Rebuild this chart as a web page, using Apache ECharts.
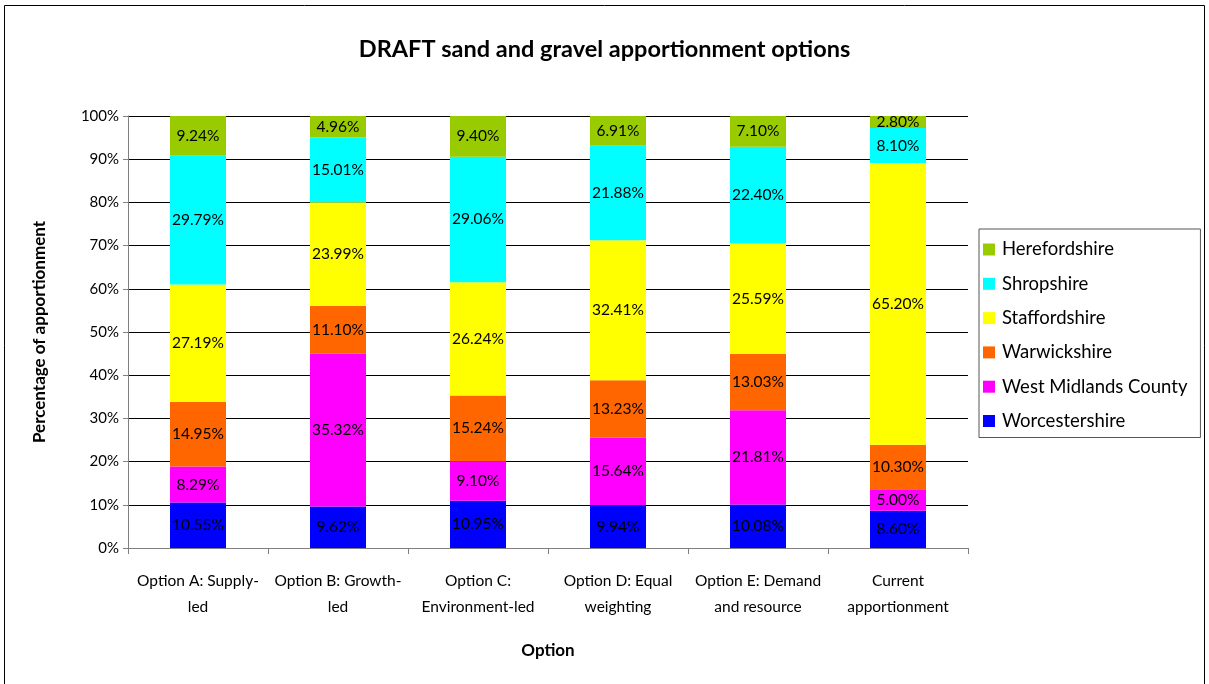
<!DOCTYPE html>
<html>
<head>
<meta charset="utf-8">
<style>
  html, body { margin: 0; padding: 0; background: #fff; }
  #chart { width: 1209px; height: 684px; }
</style>
<script src="https://cdn.jsdelivr.net/npm/echarts@6/dist/echarts.min.js"></script>
</head>
<body>
<div id="chart"></div>
<script>
// Options compared (line breaks as laid out under the axis)
const categories = [
  'Option A: Supply-\nled',
  'Option B: Growth-\nled',
  'Option C:\nEnvironment-led',
  'Option D: Equal\nweighting',
  'Option E: Demand\nand resource',
  'Current\napportionment'
];

// Share of apportionment (%) per county, bottom of the stack first
const worcestershire     = [10.55, 9.62, 10.95, 9.94, 10.08, 8.60];
const westMidlandsCounty = [8.29, 35.32, 9.10, 15.64, 21.81, 5.00];
const warwickshire       = [14.95, 11.10, 15.24, 13.23, 13.03, 10.30];
const staffordshire      = [27.19, 23.99, 26.24, 32.41, 25.59, 65.20];
const shropshire         = [29.79, 15.01, 29.06, 21.88, 22.40, 8.10];
const herefordshire      = [9.24, 4.96, 9.40, 6.91, 7.10, 2.80];

const yTicks = [0, 10, 20, 30, 40, 50, 60, 70, 80, 90, 100];

const FONT = 'Lato, "Open Sans", sans-serif';

const seriesDefs = [
  { name: 'Worcestershire', data: worcestershire, color: '#0000FF' },
  { name: 'West Midlands County', data: westMidlandsCounty, color: '#FF00FF' },
  { name: 'Warwickshire', data: warwickshire, color: '#FF6600' },
  { name: 'Staffordshire', data: staffordshire, color: '#FFFF00' },
  { name: 'Shropshire', data: shropshire, color: '#00FFFF' },
  { name: 'Herefordshire', data: herefordshire, color: '#99CC00' }
];

const chart = echarts.init(document.getElementById('chart'), null, { renderer: 'canvas' });

chart.setOption({
  animation: false,
  backgroundColor: '#fff',
  graphic: [{
    type: 'rect',
    shape: { x: 4.5, y: 5.5, width: 1200, height: 690 },
    style: { fill: 'none', stroke: '#000', lineWidth: 1 },
    silent: true
  }],
  title: {
    text: 'DRAFT sand and gravel apportionment options',
    left: 'center',
    top: 32,
    textStyle: { fontFamily: FONT, fontSize: 23.5, fontWeight: 'bold', color: '#000' }
  },
  legend: {
    orient: 'vertical',
    left: 979,
    top: 229,
    padding: [11, 13, 7, 4],
    itemGap: 15.3,
    itemWidth: 12,
    itemHeight: 12,
    icon: 'rect',
    borderColor: '#555',
    borderWidth: 1,
    data: seriesDefs.map(s => s.name).reverse(),
    textStyle: { fontFamily: FONT, fontSize: 18.5, color: '#000', padding: [0, 0, 0, 2] }
  },
  grid: { left: 128, right: 241, top: 116, bottom: 136, containLabel: false },
  xAxis: {
    type: 'category',
    data: categories,
    name: 'Option',
    nameLocation: 'middle',
    nameGap: 94,
    nameTextStyle: { fontFamily: FONT, fontSize: 17, fontWeight: 'bold', color: '#000' },
    axisLine: { lineStyle: { color: '#808080', width: 1 } },
    axisTick: { show: true, alignWithLabel: false, length: 6, lineStyle: { color: '#808080' } },
    axisLabel: {
      interval: 0,
      margin: 20,
      fontFamily: FONT,
      fontSize: 15.5,
      color: '#000',
      lineHeight: 26
    }
  },
  yAxis: {
    type: 'value',
    min: 0,
    max: 100,
    interval: 10,
    name: 'Percentage of apportionment',
    nameLocation: 'middle',
    nameGap: 80,
    nameTextStyle: { fontFamily: FONT, fontSize: 17, fontWeight: 'bold', color: '#000' },
    axisLine: { show: true, lineStyle: { color: '#808080', width: 1 } },
    axisTick: { show: true, length: 5, lineStyle: { color: '#808080' } },
    axisLabel: {
      margin: 9,
      fontFamily: FONT,
      fontSize: 15,
      color: '#000',
      formatter: v => (yTicks.includes(v) ? v + '%' : '')
    },
    splitLine: { show: true, lineStyle: { color: '#000', width: 1 } }
  },
  series: seriesDefs.map(s => ({
    name: s.name,
    type: 'bar',
    stack: 'total',
    barWidth: '40%',
    data: s.data,
    itemStyle: { color: s.color },
    label: {
      show: true,
      position: 'inside',
      fontFamily: FONT,
      fontSize: 15.5,
      color: '#000',
      formatter: p => p.value.toFixed(2) + '%'
    }
  }))
});
</script>
</body>
</html>
